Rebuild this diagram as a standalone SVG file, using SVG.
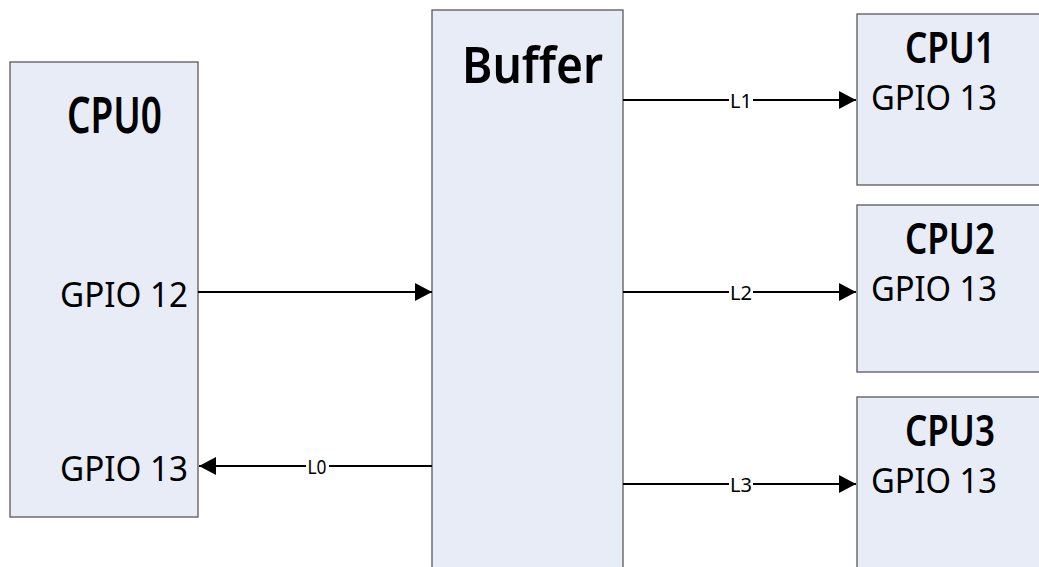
<svg xmlns="http://www.w3.org/2000/svg" width="1039" height="567" viewBox="0 0 1039 567">
<style>
.box{fill:#e7ecf7;stroke:#595959;stroke-width:1.3}
.t{font-family:"Noto Sans","DejaVu Sans",sans-serif;fill:#000}
.big{font-size:50px;font-weight:600}
.mid{font-size:44px;font-weight:600}
.gp{font-size:35px}
.lbl{font-family:"Noto Sans","DejaVu Sans",sans-serif;font-size:20px;fill:#000;text-anchor:middle;dominant-baseline:central}
.ln{stroke:#000;stroke-width:2;fill:none}
.bg{fill:#fff}
</style>
<defs>
<marker id="ah" viewBox="0 0 17 18" refX="17" refY="9" markerWidth="17" markerHeight="18" markerUnits="userSpaceOnUse" orient="auto">
<path d="M0,0 L17,9 L0,18 Z" fill="#000"/>
</marker>
</defs>
<g id="cpu0">
<rect class="box" x="10" y="62" width="188" height="455"/>
<text class="t big" x="67" y="133" textLength="95" lengthAdjust="spacingAndGlyphs">CPU0</text>
<text class="t gp" x="60" y="307" textLength="128" lengthAdjust="spacingAndGlyphs">GPIO 12</text>
<text class="t gp" x="60" y="481" textLength="128" lengthAdjust="spacingAndGlyphs">GPIO 13</text>
</g>
<g id="buffer">
<rect class="box" x="432" y="10" width="191" height="570"/>
<text class="t big" x="462" y="83" font-size="54" textLength="141" lengthAdjust="spacingAndGlyphs">Buffer</text>
</g>
<g id="cpu1">
<rect class="box" x="857" y="14" width="190" height="171"/>
<text class="t mid" x="905" y="63" textLength="90" lengthAdjust="spacingAndGlyphs">CPU1</text>
<text class="t gp" x="871" y="110" textLength="126" lengthAdjust="spacingAndGlyphs">GPIO 13</text>
</g>
<g id="cpu2">
<rect class="box" x="857" y="205" width="190" height="167"/>
<text class="t mid" x="905" y="254" textLength="90" lengthAdjust="spacingAndGlyphs">CPU2</text>
<text class="t gp" x="871" y="301" textLength="126" lengthAdjust="spacingAndGlyphs">GPIO 13</text>
</g>
<g id="cpu3">
<rect class="box" x="857" y="397" width="190" height="180"/>
<text class="t mid" x="905" y="446" textLength="90" lengthAdjust="spacingAndGlyphs">CPU3</text>
<text class="t gp" x="871" y="493" textLength="126" lengthAdjust="spacingAndGlyphs">GPIO 13</text>
</g>
<g id="connectors">
<line class="ln" x1="198" y1="292" x2="432" y2="292" marker-end="url(#ah)"/>
<line class="ln" x1="432" y1="466" x2="199" y2="466" marker-end="url(#ah)"/>
<rect class="bg" x="306" y="456" width="23" height="20"/>
<text class="lbl" x="317" y="466" textLength="19" lengthAdjust="spacingAndGlyphs">L0</text>
<line class="ln" x1="623" y1="100" x2="856" y2="100" marker-end="url(#ah)"/>
<rect class="bg" x="729" y="90" width="24" height="20"/>
<text class="lbl" x="741" y="100" textLength="22" lengthAdjust="spacingAndGlyphs">L1</text>
<line class="ln" x1="623" y1="292" x2="856" y2="292" marker-end="url(#ah)"/>
<rect class="bg" x="729" y="282" width="24" height="20"/>
<text class="lbl" x="741" y="292" textLength="22" lengthAdjust="spacingAndGlyphs">L2</text>
<line class="ln" x1="623" y1="484" x2="856" y2="484" marker-end="url(#ah)"/>
<rect class="bg" x="729" y="474" width="24" height="20"/>
<text class="lbl" x="741" y="484" textLength="22" lengthAdjust="spacingAndGlyphs">L3</text>
</g>
</svg>
